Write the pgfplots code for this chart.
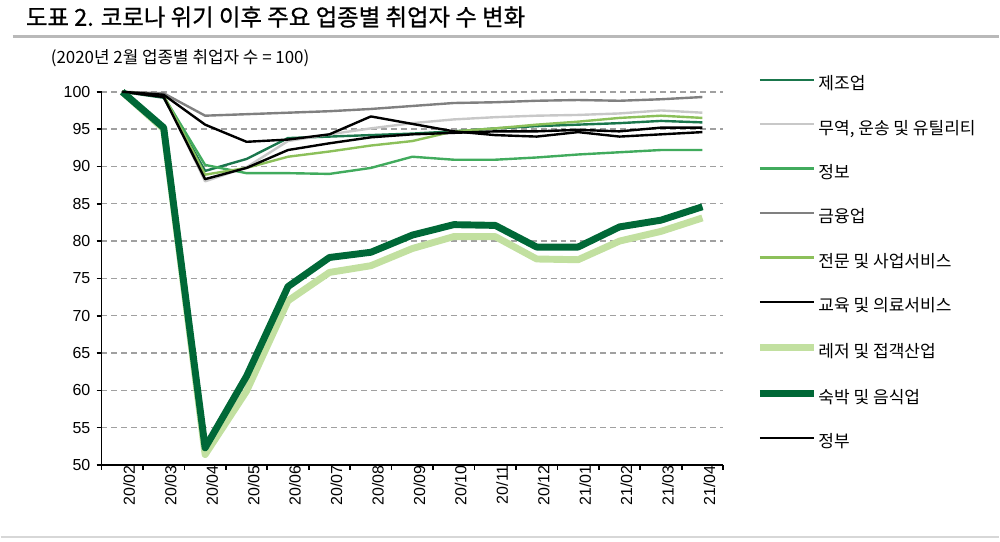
\documentclass[border=0pt]{standalone}
\usepackage{fontspec}
\setmainfont{Liberation Sans}
\newfontfamily\kr{Noto Sans CJK KR}
\newfontfamily\krtitle[FakeBold=0.8]{Noto Sans CJK KR}
\usepackage{pgfplots}
\pgfplotsset{compat=1.18}
\definecolor{cManu}{RGB}{26,118,76}
\definecolor{cTrade}{RGB}{200,200,200}
\definecolor{cInfo}{RGB}{65,171,93}
\definecolor{cFin}{RGB}{128,128,128}
\definecolor{cProf}{RGB}{140,192,90}
\definecolor{cLeis}{RGB}{194,224,160}
\definecolor{cAcc}{RGB}{0,104,55}
\definecolor{cGrid}{RGB}{160,160,160}
\begin{document}
\begin{tikzpicture}
\path (0pt,0pt) rectangle (750pt,407.25pt);
% title and rules
\node[anchor=west, inner sep=0pt] at (18.75pt,394.5pt) {\krtitle\fontsize{17.6}{19}\selectfont 도표 2. 코로나 위기 이후 주요 업종별 취업자 수 변화};
\draw[line width=2.2pt, color={rgb,255:red,185;green,185;blue,185}] (9pt,379.5pt) -- (750pt,379.5pt);
\node[anchor=west, inner sep=0pt] at (37.5pt,363.75pt) {\kr\fontsize{12.7}{14}\selectfont (2020년 2월 업종별 취업자 수 = 100)};
\draw[line width=1.1pt, color={rgb,255:red,215;green,215;blue,215}] (0pt,3.75pt) -- (750pt,3.75pt);
\begin{axis}[
  at={(75.75pt,57.75pt)}, anchor=south west,
  scale only axis, width=467.25pt, height=280.5pt,
  xmin=-0.5, xmax=14.5, ymin=50, ymax=100,
  axis x line*=bottom, axis y line*=left,
  axis line style={line width=1.2pt, black},
  ytick={50,55,...,100},
  xtick={-0.5,0.5,...,14.5}, xticklabels={},
  extra x ticks={0,...,14},
  extra x tick labels={20/02,20/03,20/04,20/05,20/06,20/07,20/08,20/09,20/10,20/11,20/12,21/01,21/02,21/03,21/04},
  extra x tick style={major tick length=0pt, grid=none,
     xticklabel style={rotate=90, anchor=east, inner sep=0pt, yshift=-5.25pt}},
  tick align=outside, major tick length=3.75pt,
  tick style={line width=1.2pt, black},
  ymajorgrids, grid style={dash pattern=on 4.5pt off 3pt, line width=1.1pt, cGrid},
  ticklabel style={font=\fontsize{12}{14}\selectfont},
  yticklabel style={anchor=east, inner sep=0pt, xshift=-4.5pt},
  /pgf/number format/assume math mode=true,
  clip=false,
  legend cell align=left,
  legend style={draw=none, fill=none, inner sep=0pt, at={(1,1)}, anchor=north west,
    xshift=24.75pt, yshift=10.8pt, row sep=21.9pt,
    font=\kr\fontsize{12.8}{14}\selectfont,
    nodes={inner sep=0pt, text height=9pt, text depth=2.5pt}},
  legend image code/.code={\draw[#1] (0pt,4.2pt) -- (41pt,4.2pt); \path (41.5pt,4.2pt);},
  every axis plot/.append style={line join=round},
]
\addplot[cManu, line width=1.8pt] coordinates {(0,100)(1,99.2)(2,89.4)(3,91.0)(4,93.8)(5,94.0)(6,94.2)(7,94.4)(8,94.7)(9,95.1)(10,95.4)(11,95.6)(12,95.8)(13,96.1)(14,95.9)};
\addlegendentry{제조업}
\addplot[cTrade, line width=1.8pt] coordinates {(0,100)(1,99.5)(2,88.0)(3,89.9)(4,93.4)(5,94.3)(6,95.1)(7,95.8)(8,96.3)(9,96.6)(10,96.8)(11,96.9)(12,97.1)(13,97.5)(14,97.2)};
\addlegendentry{무역, 운송 및 유틸리티}
\addplot[cInfo, line width=1.8pt] coordinates {(0,100)(1,99.4)(2,90.2)(3,89.1)(4,89.1)(5,89.0)(6,89.8)(7,91.3)(8,90.9)(9,90.9)(10,91.2)(11,91.6)(12,91.9)(13,92.2)(14,92.2)};
\addlegendentry{정보}
\addplot[cFin, line width=1.8pt] coordinates {(0,100)(1,99.8)(2,96.8)(3,97.0)(4,97.2)(5,97.4)(6,97.7)(7,98.1)(8,98.5)(9,98.6)(10,98.8)(11,98.9)(12,98.8)(13,99.0)(14,99.3)};
\addlegendentry{금융업}
\addplot[cProf, line width=1.8pt] coordinates {(0,100)(1,99.5)(2,88.9)(3,89.8)(4,91.3)(5,92.0)(6,92.8)(7,93.4)(8,94.7)(9,95.1)(10,95.6)(11,96.0)(12,96.5)(13,96.8)(14,96.5)};
\addlegendentry{전문 및 사업서비스}
\addplot[black, line width=1.8pt] coordinates {(0,100)(1,99.3)(2,88.3)(3,89.8)(4,92.2)(5,93.1)(6,93.9)(7,94.3)(8,94.5)(9,94.7)(10,94.7)(11,94.9)(12,94.7)(13,95.2)(14,95.2)};
\addlegendentry{교육 및 의료서비스}
\addplot[cLeis, line width=5.2pt] coordinates {(0,100)(1,95.0)(2,51.4)(3,59.9)(4,72.0)(5,75.8)(6,76.7)(7,79.0)(8,80.6)(9,80.6)(10,77.6)(11,77.5)(12,80.0)(13,81.3)(14,83.1)};
\addlegendentry{레저 및 접객산업}
\addplot[cAcc, line width=5.2pt] coordinates {(0,100)(1,95.2)(2,52.3)(3,61.9)(4,73.9)(5,77.8)(6,78.5)(7,80.8)(8,82.2)(9,82.1)(10,79.2)(11,79.2)(12,81.9)(13,82.8)(14,84.6)};
\addlegendentry{숙박 및 음식업}
\addplot[black, line width=1.8pt] coordinates {(0,100)(1,99.6)(2,95.6)(3,93.3)(4,93.6)(5,94.3)(6,96.7)(7,95.7)(8,94.7)(9,94.2)(10,94.0)(11,94.6)(12,94.0)(13,94.3)(14,94.6)};
\addlegendentry{정부}
\end{axis}
\end{tikzpicture}
\end{document}
